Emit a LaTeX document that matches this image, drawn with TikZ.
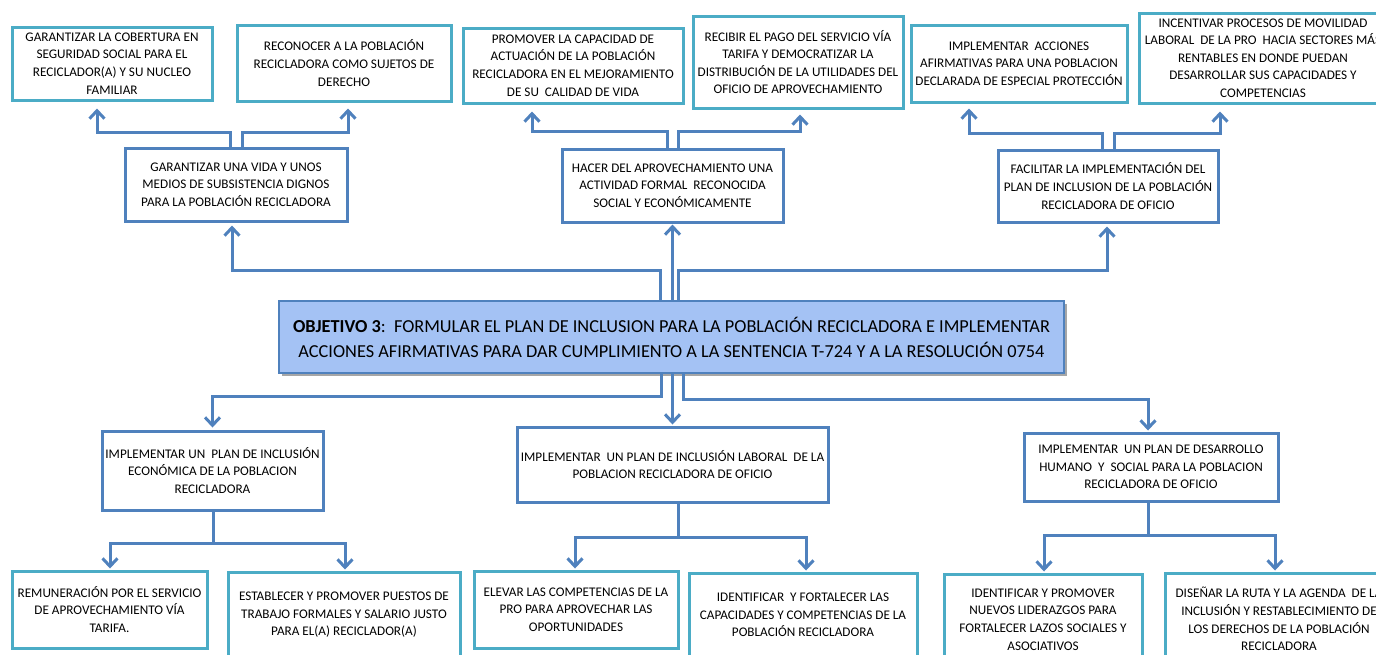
\documentclass[tikz,border=0pt]{standalone}
\usepackage{fontspec}
\setmainfont{Carlito}
\usetikzlibrary{arrows.meta,shadows}
\definecolor{cyanb}{RGB}{75,172,198}
\definecolor{blueb}{RGB}{79,129,189}
\definecolor{centerfill}{RGB}{164,194,244}
\tikzset{
  cbox/.style={draw=cyanb,line width=3pt,fill=white,inner sep=0pt,align=center,font=\fontsize{13.2}{17.6}\selectfont},
  bbox/.style={draw=blueb,line width=3pt,fill=white,inner sep=0pt,align=center,font=\fontsize{13.2}{17.6}\selectfont},
  conn/.style={draw=blueb,line width=3pt},
  arr/.style={conn,-{Straight Barb[length=8pt,width=15pt]}}
}
\begin{document}
\begin{tikzpicture}[x=1pt,y=-1pt]
\useasboundingbox (0,0) rectangle (1376,654);
\clip (0,0) rectangle (1376,654);
\fill[white] (0,0) rectangle (1376,654);

% top row
\node[cbox,minimum width=200pt,minimum height=73pt] (t1) at (112,63.5) {GARANTIZAR LA COBERTURA EN\\SEGURIDAD SOCIAL PARA EL\\RECICLADOR(A) Y SU NUCLEO\\FAMILIAR};
\node[cbox,minimum width=214pt,minimum height=76pt] (t2) at (344,63) {RECONOCER A LA POBLACIÓN\\RECICLADORA COMO SUJETOS DE\\DERECHO};
\node[cbox,minimum width=220pt,minimum height=75pt] (t3) at (573,65.5) {PROMOVER LA CAPACIDAD DE\\ACTUACIÓN DE LA POBLACIÓN\\RECICLADORA EN EL MEJORAMIENTO\\DE SU\ \ CALIDAD DE VIDA};
\node[cbox,minimum width=210pt,minimum height=92pt] (t4) at (798,62) {RECIBIR EL PAGO DEL SERVICIO VÍA\\TARIFA Y DEMOCRATIZAR LA\\DISTRIBUCIÓN DE LA UTILIDADES DEL\\OFICIO DE APROVECHAMIENTO};
\node[cbox,minimum width=216pt,minimum height=77pt] (t5) at (1019,63.5) {IMPLEMENTAR\ \ ACCIONES\\AFIRMATIVAS PARA UNA POBLACION\\DECLARADA DE ESPECIAL PROTECCIÓN};
\node[cbox,minimum width=248pt,minimum height=90pt] (t6) at (1263,58) {INCENTIVAR PROCESOS DE MOVILIDAD\\LABORAL\ \ DE LA PRO\ \ HACIA SECTORES MÁS\\RENTABLES EN DONDE PUEDAN\\DESARROLLAR SUS CAPACIDADES Y\\COMPETENCIAS};

% second row
\node[bbox,minimum width=222pt,minimum height=73pt] (m1) at (236,184.5) {GARANTIZAR UNA VIDA Y UNOS\\MEDIOS DE SUBSISTENCIA DIGNOS\\PARA LA POBLACIÓN RECICLADORA};
\node[bbox,minimum width=221pt,minimum height=73pt] (m2) at (672.5,185.5) {HACER DEL APROVECHAMIENTO UNA\\ACTIVIDAD FORMAL\ \ RECONOCIDA\\SOCIAL Y ECONÓMICAMENTE};
\node[bbox,minimum width=220pt,minimum height=72pt] (m3) at (1108,186) {FACILITAR LA IMPLEMENTACIÓN DEL\\PLAN DE INCLUSION DE LA POBLACIÓN\\RECICLADORA DE OFICIO};

% centre
\node[draw=blueb,line width=1.5pt,fill=centerfill,inner sep=0pt,align=center,
  minimum width=785pt,minimum height=72pt,
  drop shadow={shadow xshift=3pt,shadow yshift=-3pt,fill=black,opacity=0.35},
  font=\fontsize{18.3}{25}\selectfont] (c) at (671.5,337)
  {\textbf{OBJETIVO 3}:\ \ FORMULAR EL PLAN DE INCLUSION PARA LA POBLACIÓN RECICLADORA E IMPLEMENTAR\\ACCIONES AFIRMATIVAS PARA DAR CUMPLIMIENTO A LA SENTENCIA T-724 Y A LA RESOLUCIÓN 0754};

% third row
\node[bbox,minimum width=221pt,minimum height=79pt] (b1) at (212.5,470.5) {IMPLEMENTAR UN\ \ PLAN DE INCLUSIÓN\\ECONÓMICA DE LA POBLACION\\RECICLADORA};
\node[bbox,minimum width=311pt,minimum height=75pt] (b2) at (672.5,464.5) {IMPLEMENTAR\ \ UN PLAN DE INCLUSIÓN LABORAL\ \ DE LA\\POBLACION RECICLADORA DE OFICIO};
\node[bbox,minimum width=254pt,minimum height=68pt] (b3) at (1151,467) {IMPLEMENTAR\ \ UN PLAN DE DESARROLLO\\HUMANO\ \ Y\ \ SOCIAL PARA LA POBLACION\\RECICLADORA DE OFICIO};

% bottom row
\node[cbox,minimum width=195pt,minimum height=77pt] (l1) at (109.5,609.5) {REMUNERACIÓN POR EL SERVICIO\\DE APROVECHAMIENTO VÍA\\TARIFA.};
\node[cbox,minimum width=232pt,minimum height=86pt] (l2) at (344,615) {ESTABLECER Y PROMOVER PUESTOS DE\\TRABAJO FORMALES Y SALARIO JUSTO\\PARA EL(A) RECICLADOR(A)};
\node[cbox,minimum width=204pt,minimum height=77pt] (l3) at (576,609.5) {ELEVAR LAS COMPETENCIAS DE LA\\PRO PARA APROVECHAR LAS\\OPORTUNIDADES};
\node[cbox,minimum width=228pt,minimum height=84pt] (l4) at (803,615) {IDENTIFICAR\ \ Y FORTALECER LAS\\CAPACIDADES Y COMPETENCIAS DE LA\\POBLACIÓN RECICLADORA};
\node[cbox,minimum width=198pt,minimum height=91pt] (l5) at (1043,619.5) {IDENTIFICAR Y PROMOVER\\NUEVOS LIDERAZGOS PARA\\FORTALECER LAZOS SOCIALES Y\\ASOCIATIVOS};
\node[cbox,minimum width=228pt,minimum height=92pt] (l6) at (1279,619) {DISEÑAR LA RUTA Y LA AGENDA\ \ DE LA\\INCLUSIÓN Y RESTABLECIMIENTO DE\\LOS DERECHOS DE LA POBLACIÓN\\RECICLADORA};

% connectors: second row to top row
\draw[arr] ([xshift=-6pt]m1.north) -- ++(0,-14) -| ([xshift=-15pt,yshift=-7pt]t1.south);
\draw[arr] ([xshift=6pt]m1.north) -- ++(0,-14) -| ([xshift=4pt,yshift=-6pt]t2.south);
\draw[arr] ([xshift=-5.5pt]m2.north) -- ++(0,-16) -| ([xshift=-41pt,yshift=-7pt]t3.south);
\draw[arr] ([xshift=5.5pt]m2.north) -- ++(0,-16) -| ([xshift=2pt,yshift=-5pt]t4.south);
\draw[arr] ([xshift=-6pt]m3.north) -- ++(0,-15) -| ([xshift=-50pt,yshift=-5pt]t5.south);
\draw[arr] ([xshift=6pt]m3.north) -- ++(0,-15) -| ([xshift=-43pt,yshift=-7pt]t6.south);

% centre to second row
\draw[arr] ([xshift=-11.5pt]c.north) -- ++(0,-30) -| ([xshift=-4pt,yshift=-3pt]m1.south);
\draw[arr] ([xshift=1pt]c.north) -- ([yshift=-1pt]m2.south);
\draw[arr] ([xshift=6.5pt]c.north) -- ++(0,-30) -| ([xshift=-1pt,yshift=-3pt]m3.south);

% centre to third row
\draw[arr] ([xshift=-10.5pt]c.south) -- ++(0,23) -| ([yshift=2pt]b1.north);
\draw[arr] ([xshift=1pt]c.south) -- ([yshift=1pt]b2.north);
\draw[arr] ([xshift=11.5pt]c.south) -- ++(0,26) -| ([xshift=-3pt,yshift=1pt]b3.north);

% third row to bottom row
\draw[arr] ([xshift=0.5pt]b1.south) -- ++(0,32) -| ([xshift=0.5pt,yshift=1pt]l1.north);
\draw[arr] ([xshift=0.5pt]b1.south) -- ++(0,32) -| ([xshift=1pt,yshift=1pt]l2.north);
\draw[arr] ([xshift=5.5pt]b2.south) -- ++(0,34) -| ([xshift=-1pt,yshift=1pt]l3.north);
\draw[arr] ([xshift=5.5pt]b2.south) -- ++(0,34) -| ([xshift=3pt,yshift=1pt]l4.north);
\draw[arr] ([xshift=-3pt]b3.south) -- ++(0,33) -| ([xshift=1pt,yshift=1pt]l5.north);
\draw[arr] ([xshift=-3pt]b3.south) -- ++(0,33) -| ([xshift=-4pt,yshift=1pt]l6.north);
\end{tikzpicture}
\end{document}
